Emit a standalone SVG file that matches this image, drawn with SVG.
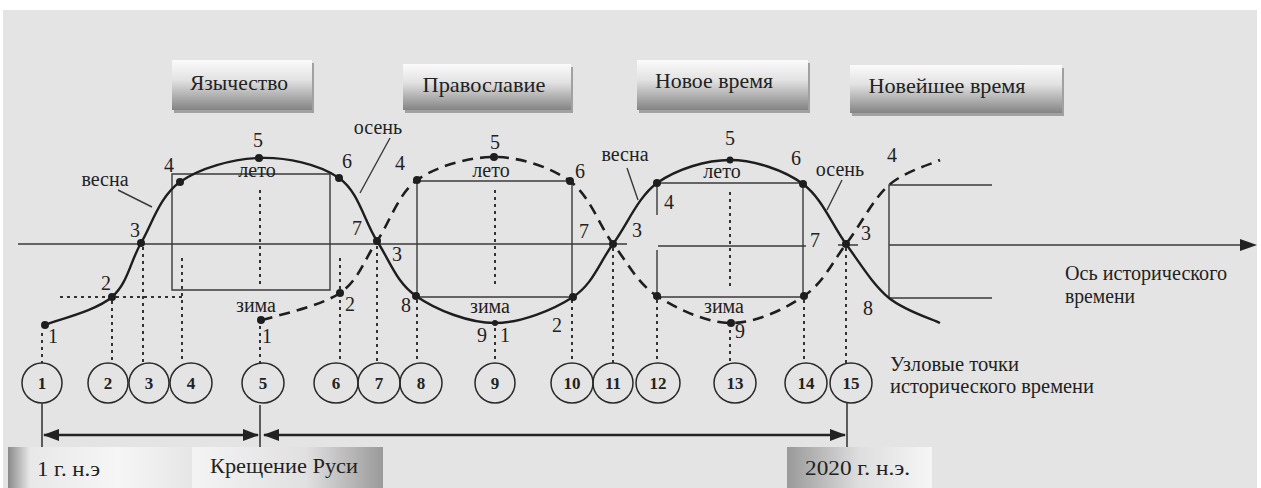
<svg xmlns="http://www.w3.org/2000/svg" width="1261" height="488" viewBox="0 0 1261 488" font-family="'Liberation Serif', 'DejaVu Serif', serif">
<defs>
<linearGradient id="gTitle" x1="0" y1="0" x2="0" y2="1">
<stop offset="0" stop-color="#fbfbfb"/>
<stop offset="0.4" stop-color="#e2e2e2"/>
<stop offset="1" stop-color="#848484"/>
</linearGradient>
<linearGradient id="gBotL" x1="0" y1="0" x2="1" y2="0">
<stop offset="0" stop-color="#8a8a8a"/>
<stop offset="0.12" stop-color="#e8e8e8"/>
<stop offset="0.6" stop-color="#f6f6f6"/>
<stop offset="1" stop-color="#e6e6e6"/>
</linearGradient>
<linearGradient id="gBotM" x1="0" y1="0" x2="1" y2="0">
<stop offset="0" stop-color="#f4f4f4"/>
<stop offset="0.6" stop-color="#e0e0e0"/>
<stop offset="1" stop-color="#9a9a9a"/>
</linearGradient>
<linearGradient id="gBotR" x1="0" y1="0" x2="1" y2="0">
<stop offset="0" stop-color="#9a9a9a"/>
<stop offset="0.5" stop-color="#dedede"/>
<stop offset="1" stop-color="#f6f6f6"/>
</linearGradient>
<marker id="ah" markerWidth="16" markerHeight="12" refX="15" refY="6" orient="auto-start-reverse" markerUnits="userSpaceOnUse">
<path d="M0,0 L16,6 L0,12 Z" fill="#222"/>
</marker>
</defs>
<style>
text{font-family:'Liberation Serif','DejaVu Serif',serif;fill:#222}
.t{font-size:21px;text-anchor:middle}
.l{font-size:20px;text-anchor:middle}
.s{font-size:20px;text-anchor:start}
.n{font-size:17px;font-weight:bold;text-anchor:middle}
.b{font-size:20px}
.thin{stroke:#3a3a3a;stroke-width:1.4;fill:none}
.dot{stroke:#333;stroke-width:2;stroke-dasharray:3 4;fill:none}
.curve{stroke:#1e1e1e;stroke-width:2.4;fill:none}
.dash{stroke:#1e1e1e;stroke-width:2.6;fill:none;stroke-dasharray:11 7}
.pt{fill:#1e1e1e}
.circ{fill:none;stroke:#2a2a2a;stroke-width:1.5}
.shadow{fill:#6a6a6a;opacity:0.55}
</style>
<rect x="0" y="0" width="1261" height="488" fill="#ffffff"/>
<rect x="3" y="10" width="1254" height="478" fill="#e4e4e4"/>

<g id="title-yazychestvo">
<rect class="shadow" x="174" y="63" width="140" height="50"/>
<rect x="172" y="60" width="140" height="50" fill="url(#gTitle)"/>
<text class="t" x="239" y="90" textLength="98" lengthAdjust="spacingAndGlyphs">Язычество</text>
</g>
<g id="title-pravoslavie">
<rect class="shadow" x="405" y="67" width="168" height="46"/>
<rect x="403" y="64" width="168" height="46" fill="url(#gTitle)"/>
<text class="t" x="484" y="92" textLength="123" lengthAdjust="spacingAndGlyphs">Православие</text>
</g>
<g id="title-novoe">
<rect class="shadow" x="639" y="63" width="171" height="50"/>
<rect x="637" y="60" width="171" height="50" fill="url(#gTitle)"/>
<text class="t" x="714" y="88" textLength="118" lengthAdjust="spacingAndGlyphs">Новое время</text>
</g>
<g id="title-noveyshee">
<rect class="shadow" x="852" y="68" width="212" height="48"/>
<rect x="850" y="65" width="212" height="48" fill="url(#gTitle)"/>
<text class="t" x="947" y="93" textLength="157" lengthAdjust="spacingAndGlyphs">Новейшее время</text>
</g>

<g id="axis">
<path class="thin" d="M18,244 H627 M658,246 H806 M838,245 H858 M889,245 H1242"/>
<path d="M1240,239 L1257,245 L1240,251 Z" fill="#222"/>
<text class="s" x="1065" y="280" textLength="162" lengthAdjust="spacingAndGlyphs">Ось исторического</text>
<text class="s" x="1065" y="303" textLength="70" lengthAdjust="spacingAndGlyphs">времени</text>
</g>

<g id="frames">
<path class="thin" d="M172,174 H330 V290 H172 Z"/>
<path class="dot" d="M60,297 H182"/>
<path class="thin" d="M417,181 H572 V297 H417 Z"/>
<path class="thin" d="M657,183 H803 V297 H657 M657,183 V215 M657,250 V297"/>
<path class="thin" d="M992,185 H889 V298 H992"/>
</g>

<g id="dotted-links">
<path class="dot" d="M42,333 V363 M112,301 V363 M143,247 V363 M182,258 V363 M260,190 V284 M260,326 V363 M340,258 V363 M377,246 V363 M417,300 V363 M495,190 V285 M495,328 V363 M572,300 V363 M613,248 V363 M657,300 V363 M730,192 V290 M730,330 V363 M804,300 V363 M846,248 V363"/>
</g>

<g id="curves">
<path class="curve" d="M45,325 C56,320 96,311 112,297 C128,283 130,262 141,243 C152,224 160,196 180,182 C200,168 232,159 259,158 C286,157 319,164 339,178 C359,192 364,221 377,241 C390,261 396,282 416,296 C436,310 469,323 495,323 C521,323 553,310 573,297 C593,284 599,263 613,244 C627,225 638,197 657,183 C677,169 706,160 730,160 C754,160 784,170 803,184 C822,198 832,225 846,244 C860,263 873,285 889,298 C905,311 932,319 940,323"/>
<path class="dash" d="M262,320 C275,316 321,306 340,293 C359,280 364,260 377,241 C390,222 398,194 417,180 C437,166 469,157 494,157 C520,157 550,167 570,181 C590,196 599,225 613,244 C628,263 637,283 657,296 C677,309 707,323 731,323 C756,323 785,309 804,296 C823,283 832,263 846,244 C860,226 873,199 889,185 C905,171 932,164 940,160"/>
<g class="pt">
<circle cx="45" cy="325" r="4"/><circle cx="112" cy="297" r="4"/><circle cx="141" cy="243" r="4"/><circle cx="180" cy="182" r="4"/><circle cx="259" cy="158" r="4"/><circle cx="339" cy="178" r="4"/><circle cx="377" cy="241" r="4"/><circle cx="416" cy="296" r="4"/><circle cx="495" cy="323" r="3"/><circle cx="573" cy="297" r="4"/><circle cx="613" cy="244" r="4"/><circle cx="657" cy="183" r="4"/><circle cx="730" cy="160" r="3.5"/><circle cx="803" cy="184" r="4"/><circle cx="846" cy="244" r="4"/>
<circle cx="261" cy="320" r="4"/><circle cx="340" cy="293" r="4"/><circle cx="417" cy="180" r="4"/><circle cx="494" cy="157" r="4"/><circle cx="570" cy="181" r="4"/><circle cx="657" cy="296" r="4"/><circle cx="731" cy="323" r="4"/><circle cx="804" cy="296" r="4"/>
</g>
<path class="thin" d="M118,190 L152,207 M390,138 L360,193 M627,168 L638,200 M842,180 L827,210"/>
</g>

<g id="curve-labels">
<text class="l" x="105" y="186">весна</text>
<text class="l" x="378" y="134">осень</text>
<text class="l" x="625" y="161">весна</text>
<text class="l" x="840" y="176">осень</text>
<text class="l" x="257" y="177">лето</text>
<text class="l" x="491" y="177">лето</text>
<text class="l" x="722" y="178">лето</text>
<text class="l" x="256" y="312">зима</text>
<text class="l" x="490" y="313">зима</text>
<text class="l" x="724" y="313">зима</text>
<text class="l" x="53" y="343">1</text>
<text class="l" x="106" y="290">2</text>
<text class="l" x="135" y="237">3</text>
<text class="l" x="169" y="172">4</text>
<text class="l" x="258" y="147">5</text>
<text class="l" x="347" y="168">6</text>
<text class="l" x="357" y="235">7</text>
<text class="l" x="397" y="261">3</text>
<text class="l" x="400" y="170">4</text>
<text class="l" x="350" y="311">2</text>
<text class="l" x="406" y="312">8</text>
<text class="l" x="267" y="343">1</text>
<text class="l" x="495" y="149">5</text>
<text class="l" x="580" y="178">6</text>
<text class="l" x="584" y="238">7</text>
<text class="l" x="637" y="237">3</text>
<text class="l" x="482" y="342">9</text>
<text class="l" x="505" y="342">1</text>
<text class="l" x="557" y="332">2</text>
<text class="l" x="730" y="145">5</text>
<text class="l" x="796" y="165">6</text>
<text class="l" x="669" y="209">4</text>
<text class="l" x="815" y="247">7</text>
<text class="l" x="740" y="338">9</text>
<text class="l" x="866" y="240">3</text>
<text class="l" x="892" y="162">4</text>
<text class="l" x="868" y="315">8</text>
</g>

<g id="nodal-points">
<g class="circ">
<ellipse cx="42" cy="383" rx="20" ry="20"/><ellipse cx="108" cy="383" rx="20" ry="20"/><ellipse cx="149" cy="383" rx="20" ry="20"/><ellipse cx="191" cy="383" rx="21" ry="20"/><ellipse cx="263" cy="383" rx="21" ry="20"/><ellipse cx="336" cy="383" rx="22" ry="20"/><ellipse cx="379" cy="383" rx="21" ry="20"/><ellipse cx="421" cy="383" rx="21" ry="20"/><ellipse cx="495" cy="383" rx="20" ry="20"/><ellipse cx="572" cy="383" rx="21" ry="20"/><ellipse cx="613" cy="383" rx="20" ry="20"/><ellipse cx="658" cy="383" rx="22" ry="20"/><ellipse cx="735" cy="383" rx="21" ry="20"/><ellipse cx="806" cy="383" rx="21" ry="20"/><ellipse cx="851" cy="383" rx="21" ry="20"/>
</g>
<text class="n" x="42" y="389">1</text><text class="n" x="108" y="389">2</text><text class="n" x="149" y="389">3</text><text class="n" x="191" y="389">4</text><text class="n" x="263" y="389">5</text><text class="n" x="336" y="389">6</text><text class="n" x="379" y="389">7</text><text class="n" x="421" y="389">8</text><text class="n" x="495" y="389">9</text><text class="n" x="572" y="389">10</text><text class="n" x="613" y="389">11</text><text class="n" x="658" y="389">12</text><text class="n" x="735" y="389">13</text><text class="n" x="806" y="389">14</text><text class="n" x="851" y="389">15</text>
<text class="s" x="890" y="371" textLength="129" lengthAdjust="spacingAndGlyphs">Узловые точки</text>
<text class="s" x="890" y="393" textLength="204" lengthAdjust="spacingAndGlyphs">исторического времени</text>
</g>

<g id="timeline">
<path class="thin" d="M42,403 V448 M260,405 V448 M847,403 V448" style="stroke-width:1.6"/>
<path d="M44,435 H258" stroke="#222" stroke-width="2.6" fill="none" marker-start="url(#ah)" marker-end="url(#ah)"/>
<path d="M264,435 H845" stroke="#222" stroke-width="2.6" fill="none" marker-start="url(#ah)" marker-end="url(#ah)"/>
</g>

<g id="date-1">
<rect x="8" y="447" width="184" height="41" fill="url(#gBotL)"/>
<text class="b" x="37" y="476" textLength="63" lengthAdjust="spacingAndGlyphs">1 г. н.э</text>
</g>
<g id="date-kreshchenie">
<rect x="192" y="447" width="191" height="41" fill="url(#gBotM)"/>
<text class="b" x="210" y="473" textLength="148" lengthAdjust="spacingAndGlyphs">Крещение Руси</text>
</g>
<g id="date-2020">
<rect x="787" y="447" width="145" height="41" fill="url(#gBotR)"/>
<text class="b" x="805" y="475" textLength="105" lengthAdjust="spacingAndGlyphs">2020 г. н.э.</text>
</g>
</svg>
